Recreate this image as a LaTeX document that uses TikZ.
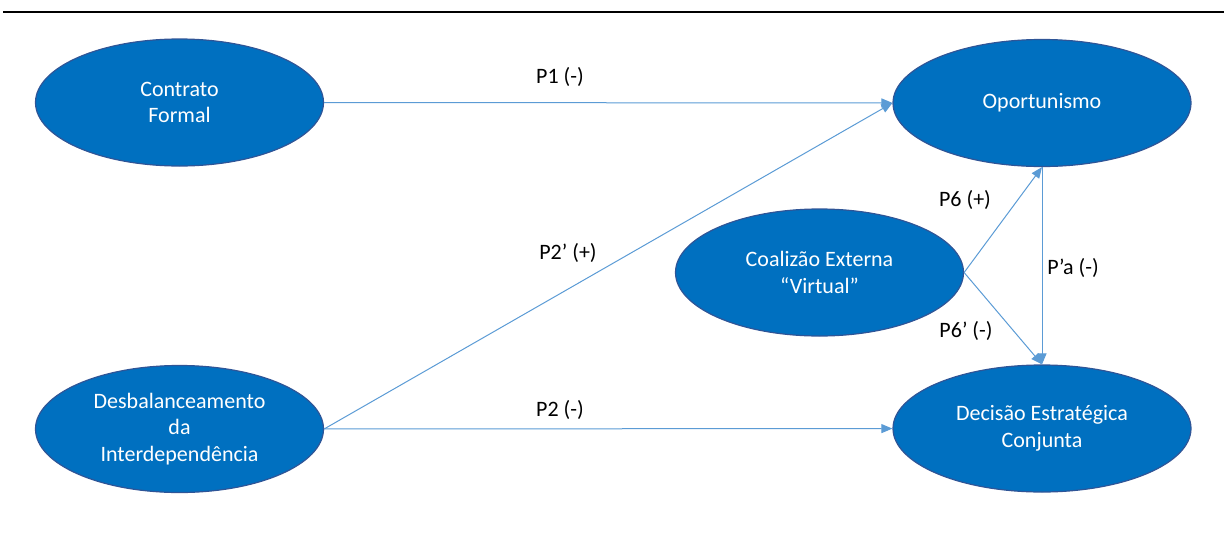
\documentclass[tikz,border=0pt]{standalone}
\usepackage{fontspec}
\setmainfont{Carlito}
\usepackage{tikz}
\usetikzlibrary{positioning}
\usetikzlibrary{shapes.geometric}
\usetikzlibrary{arrows.meta}
\definecolor{fillblue}{HTML}{0070C0}
\definecolor{rimblue}{HTML}{2F5597}
\definecolor{lineblue}{HTML}{5B9BD5}

\begin{document}
\begin{tikzpicture}[x=1pt,y=-1pt,
  every node/.style={font=\fontsize{22}{26.5}\selectfont},
  construct/.style={draw=rimblue,line width=1.2pt,fill=fillblue,shape=ellipse,
    text=white,align=center,inner sep=0pt,minimum width=288pt,minimum height=127pt},
  path/.style={draw=lineblue,line width=1pt,-{Triangle[length=11pt,width=9pt]}},
  tag/.style={inner sep=0pt,text=black}]
  \useasboundingbox (0,0) rectangle (1227,536);
  \draw[line width=2pt] (3,11.5) -- (1224,11.5);

  \node[construct] (cf) at (179.5,102.5) {Contrato\\Formal};
  \node[construct] (de) at (179.5,429) {Desbalanceamento\\da\\Interdependência};
  \node[construct] (ce) at (819.5,272.5) {Coalizão Externa\\“Virtual”};
  \node[construct,minimum width=298pt] (op) at (1042,103) {Oportunismo};
  \node[construct,minimum width=298pt] (di) at (1042,428.5) {Decisão Estratégica\\Conjunta};

  \node[tag] (p1) at (560,77) {P1 (-)};
  \node[tag] (p2b) at (568,253) {P2’ (+)};
  \node[tag] (p2) at (560,410) {P2 (-)};
  \node[tag] (p6) at (965,200) {P6 (+)};
  \node[tag] (p6b) at (966,331) {P6’ (-)};
  \node[tag] (pa) at (1073,268) {P’a (-)};

  \draw[path] (cf) -- (op);
  \draw[path] (de.east) -- (op.west);
  \draw[path] (de) -- (di);
  \draw[path] (ce.east) -- (op.south);
  \draw[path] (ce.east) -- (di.north);
  \draw[path] (op.south) -- (di.north);
\end{tikzpicture}
\end{document}
